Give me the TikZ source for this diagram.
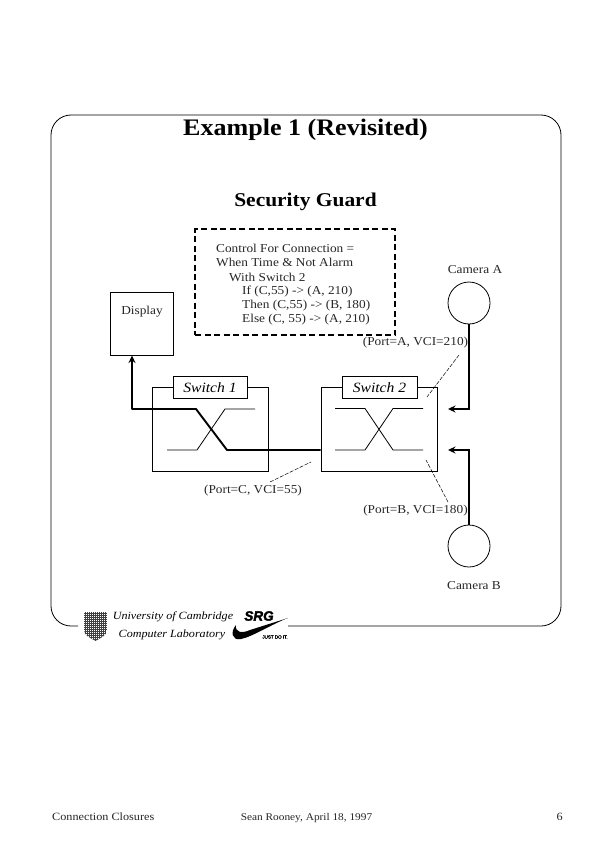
\documentclass[tikz,border=0pt]{standalone}
\usepackage{fontspec}
\setmainfont[FakeStretch=1.1]{Liberation Serif}
\newfontfamily\srgfont[FakeBold=2.5,BoldFont={Liberation Sans Bold}]{Liberation Sans}
\usetikzlibrary{arrows.meta}
\tikzset{
  txt/.style={inner sep=0pt,font=\fontsize{12.1}{14}\selectfont,text=black!85},
  box/.style={draw,line width=0.8pt},
  labelbox/.style={draw,line width=0.8pt,fill=white,inner sep=0pt,font=\fontsize{14.2}{16}\itshape\selectfont},
  thin line/.style={line width=0.8pt},
  flow/.style={line width=1.9pt,-{Stealth[length=7.5pt,width=7pt]}},
  leader/.style={line width=0.5pt,dash pattern=on 4pt off 1.5pt},
  footer/.style={inner sep=0pt,font=\fontsize{11.1}{13}\selectfont,text=black!85},
  logotxt/.style={inner sep=0pt,font=\fontsize{11}{13}\itshape\selectfont}
}
\begin{document}
\begin{tikzpicture}[x=1pt,y=-1pt]
\useasboundingbox (0,0) rectangle (597,843);
% frame
\draw[line width=0.8pt] (78,626) -- (71,626) arc[start angle=90,end angle=180,radius=20] -- (51,135)
  arc[start angle=180,end angle=270,radius=20] -- (541,115)
  arc[start angle=270,end angle=360,radius=20] -- (561,606)
  arc[start angle=0,end angle=90,radius=20] -- (288,626);
% titles
\node[inner sep=0pt,font=\fontsize{23.7}{28}\bfseries\selectfont] (title) at (305.5,130) {Example 1 (Revisited)};
\node[inner sep=0pt,font=\fontsize{19.5}{24}\bfseries\selectfont] (guard) at (305.5,202) {Security Guard};
% control box
\node[draw,line width=1.4pt,dash pattern=on 6pt off 3.5pt,minimum width=200pt,minimum height=106pt,inner sep=0pt] (ctl) at (295,282) {};
\node[txt,anchor=west] (c1) at (216,248) {Control For Connection =};
\node[txt,anchor=west] (c2) at (216,262.5) {When Time \& Not Alarm};
\node[txt,anchor=west] (c3) at (229,277) {With Switch 2};
\node[txt,anchor=west] (c4) at (242,291.5) {If (C,55) -> (A, 210)};
\node[txt,anchor=west] (c5) at (242,306) {Then (C,55) -> (B, 180)};
\node[txt,anchor=west] (c6) at (242,320) {Else (C, 55) -> (A, 210)};
% display
\node[box,minimum width=63pt,minimum height=63pt,inner sep=0pt] (disp) at (141.5,323.5) {};
\node[txt] (displabel) at (142,311.5) {Display};
% switches
\node[box,minimum width=116pt,minimum height=84pt,inner sep=0pt] (sw1) at (210,429) {};
\node[box,minimum width=116pt,minimum height=84pt,inner sep=0pt] (sw2) at (379,429) {};
\node[labelbox,minimum width=74pt,minimum height=21.5pt] (sw1l) at (210,387.5) {Switch 1};
\node[labelbox,minimum width=75pt,minimum height=21.5pt] (sw2l) at (379.5,387.5) {Switch 2};
% switch 1 fabric
\draw[thin line] (167,450) -- (197,450) -- (225,409) -- (255,409);
% switch 2 fabric
\draw[thin line] (335,408.5) -- (365,408.5) -- (393,450) -- (423,450);
\draw[thin line] (335,450) -- (365,450) -- (393,408.5) -- (423,408.5);
% cameras
\node[box,circle,minimum size=42pt,inner sep=0pt] (camA) at (469,303) {};
\node[box,circle,minimum size=42pt,inner sep=0pt] (camB) at (469,546) {};
\node[txt] (camAl) at (475,269.5) {Camera A};
\node[txt] (camBl) at (474,585.5) {Camera B};
% path through switch 1
\coordinate (p1) at (196,409);
\coordinate (p2) at (227,450);
\draw[flow,line join=round] (sw2.west |- p2) -- (p2) -- (p1) -- (132,409) -- (132,355.5);
\coordinate (ainA) at (448,409);
\coordinate (ainB) at (448,450);
\draw[flow] (camA.south) -- (469,409) -- (ainA);
\draw[flow] (camB.north) -- (469,450) -- (ainB);
% port labels
\node[txt] (pa) at (415.5,343) {(Port=A, VCI=210)};
\node[txt] (pb) at (415.5,511) {(Port=B, VCI=180)};
\node[txt] (pc) at (253,491) {(Port=C, VCI=55)};
% leaders
\coordinate (la) at (427,397);
\coordinate (lb) at (426,460);
\coordinate (lc) at (311,462);
\draw[leader] (459,355) -- (la);
\draw[leader] (448,502) -- (lb);
\draw[leader] (270,482) -- (lc);
% crest
\begin{scope}
\clip (84,612) -- (107,612) -- (107,630) .. controls (107,636) and (100,638) .. (95.5,641) .. controls (91,638) and (84,636) .. (84,630) -- cycle;
\fill[black!75] (84,612) rectangle (107,641);
\foreach \yy in {612,614,...,640}{\foreach \xx in {84,86,...,106}{\fill[white] (\xx+0.4,\yy+0.4) rectangle +(0.9,0.9);}}
\end{scope}
% logo text
\node[logotxt] (uni) at (173,616.5) {University of Cambridge};
\node[logotxt] (lab) at (172,634.5) {Computer Laboratory};
% swoosh
\fill (288,618) .. controls (272,624) and (252,637) .. (241,639) .. controls (232,641) and (230,632) .. (236,625) .. controls (235,632) and (241,634) .. (250,630) -- cycle;
\node[inner sep=0pt,font=\fontsize{13.5}{14}\srgfont\bfseries\itshape\selectfont] (srg) at (259,616) {SRG};
\node[inner sep=0pt,font=\fontsize{4.5}{6}\srgfont\selectfont] (just) at (275,637) {JUST DO IT.};
% footer
\node[footer,anchor=base west] (f1) at (52,820) {Connection Closures};
\node[footer,anchor=base,font=\fontsize{10.3}{13}\selectfont] (f2) at (306.5,820) {Sean Rooney, April 18, 1997};
\node[footer,anchor=base east] (f3) at (563,820) {6};
\end{tikzpicture}
\end{document}
